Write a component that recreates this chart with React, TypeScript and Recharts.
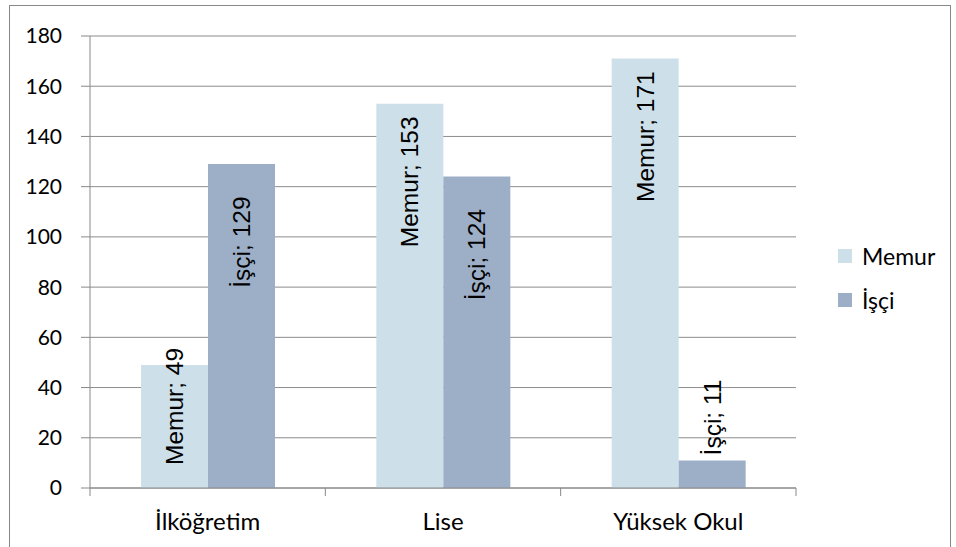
import React from 'react';
import { BarChart, Bar, XAxis, YAxis, CartesianGrid } from 'recharts';

const categories = ['İlköğretim', 'Lise', 'Yüksek Okul'];
const memurValues = [49, 153, 171];
const isciValues = [129, 124, 11];
const yTicks = [0, 20, 40, 60, 80, 100, 120, 140, 160, 180];

const SERIES = [
  { key: 'Memur', color: '#cddfe9' },
  { key: 'İşçi', color: '#9dafc7' },
];

const data = categories.map((name, i) => ({ name, Memur: memurValues[i], 'İşçi': isciValues[i] }));

const W = 956;
const H = 547;
const M = { top: 36, right: 160, left: 10, bottom: 19 };
const Y_W = 80;
const PLOT_W = W - M.left - M.right - Y_W;
const AXIS_FONT = 'Lato, "Open Sans", sans-serif';
const LABEL_FONT = '"Liberation Sans", Arial, sans-serif';
const LABEL_SIZE = 24.5;

let ctx: CanvasRenderingContext2D | null = null;
const textWidth = (s: string) => {
  if (!ctx) ctx = document.createElement('canvas').getContext('2d');
  if (!ctx) return s.length * LABEL_SIZE * 0.5;
  ctx.font = `${LABEL_SIZE}px "Liberation Sans", Arial, sans-serif`;
  return ctx.measureText(s).width;
};

// Excel style rotated labels: centred a fixed distance under the bar end, pushed up if tight,
// outside the bar when it is too short
const makeLabel = (series: string) => (props: any) => {
  const { x, y, width, height, value } = props;
  const text = `${series}; ${value}`;
  const len = textWidth(text);
  const cx = x + width / 2;
  const base = y + height;
  if (height > len) {
    let mid = y + 78;
    if (mid + len / 2 > base - 23) mid = base - 23 - len / 2;
    return (
      <text x={cx} y={mid} transform={`rotate(-90 ${cx} ${mid})`} textAnchor="middle" dominantBaseline="central"
        fontFamily={LABEL_FONT} fontSize={LABEL_SIZE} fill="#000">{text}</text>
    );
  }
  const start = y - 5;
  return (
    <text x={cx} y={start} transform={`rotate(-90 ${cx} ${start})`} textAnchor="start" dominantBaseline="central"
      fontFamily={LABEL_FONT} fontSize={LABEL_SIZE} fill="#000">{text}</text>
  );
};

const CategoryTick = (props: any) => {
  const { x, y, payload, index } = props;
  const bw = PLOT_W / categories.length;
  return (
    <g>
      <line x1={x - bw / 2} y1={y} x2={x - bw / 2} y2={y + 8} stroke="#888" />
      {index === categories.length - 1 && <line x1={x + bw / 2} y1={y} x2={x + bw / 2} y2={y + 8} stroke="#888" />}
      <text x={x} y={y + 42} textAnchor="middle" fontFamily={AXIS_FONT} fontSize={24} fill="#000">{payload.value}</text>
    </g>
  );
};

export default function App() {
  return (
    <div style={{ position: 'absolute', left: 0, top: 0, width: W, height: H, overflow: 'hidden', background: '#fff' }}>
      <div style={{ position: 'absolute', left: 9, top: 5, width: 940, height: 600, border: '1px solid #888' }} />
      <div style={{ position: 'absolute', left: 0, top: 0 }}>
        <BarChart width={W} height={H} data={data} margin={M} barGap={0} barSize={67}>
          <CartesianGrid vertical={false} stroke="#8c8c8c" />
          <XAxis dataKey="name" height={40} stroke="#888" tickLine={false} tickSize={0} tickMargin={0}
            tick={<CategoryTick />} interval={0} />
          <YAxis width={Y_W} domain={[0, 180]} ticks={yTicks} stroke="#888" tickSize={9} tickMargin={19}
            tick={{ fill: '#000', fontFamily: AXIS_FONT, fontSize: 21 }} interval={0} />
          {SERIES.map((s) => (
            <Bar key={s.key} dataKey={s.key} fill={s.color} isAnimationActive={false} label={makeLabel(s.key)} />
          ))}
        </BarChart>
      </div>
      <div style={{ position: 'absolute', left: 838, top: 234, fontFamily: AXIS_FONT, fontSize: 23, color: '#000' }}>
        {SERIES.map((s) => (
          <div key={s.key} style={{ display: 'flex', alignItems: 'center', height: 44 }}>
            <span style={{ display: 'inline-block', width: 14, height: 14, background: s.color, marginRight: 10 }} />
            {s.key}
          </div>
        ))}
      </div>
    </div>
  );
}
